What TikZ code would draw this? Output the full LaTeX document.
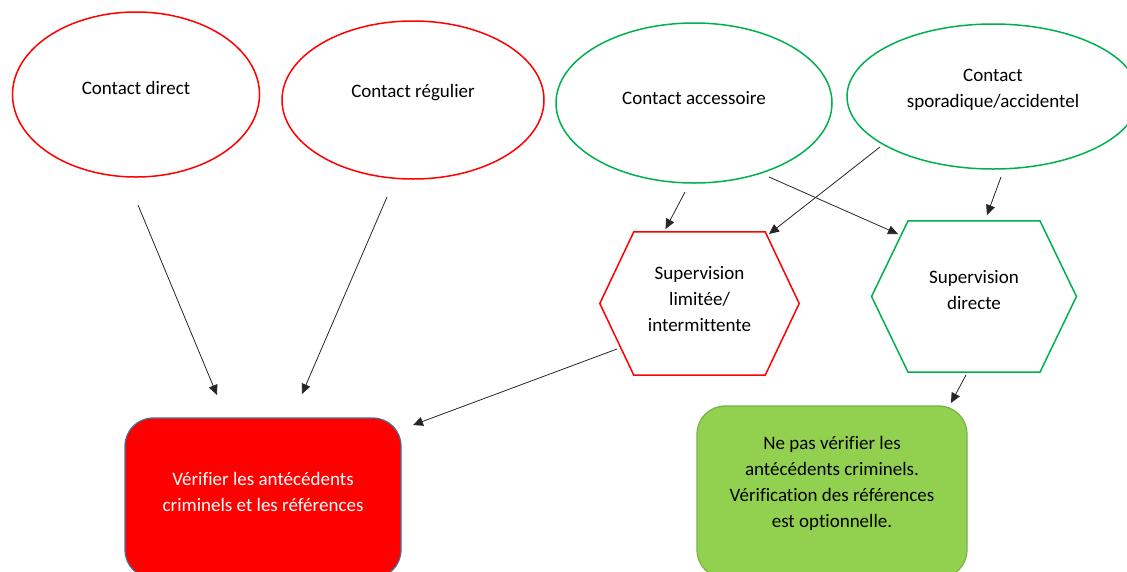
\documentclass[tikz,border=0pt]{standalone}
\usepackage{fontspec}
\setmainfont{Carlito}[Ligatures={NoCommon}]
\usetikzlibrary{arrows.meta,shapes.geometric,calc}
\definecolor{ored}{HTML}{FF0000}
\definecolor{ogreen}{HTML}{00B050}
\definecolor{lgreen}{HTML}{92D050}
\definecolor{lgreenborder}{HTML}{72B443}
\definecolor{bborder}{HTML}{41719C}
\begin{document}
\begin{tikzpicture}[x=1pt,y=-1pt,
  ell/.style={ellipse, draw, line width=1.5pt, inner sep=0pt, fill=white},
  txt/.style={font=\fontsize{19}{26}\selectfont, align=center, inner sep=0pt},
  conn/.style={draw=black!85, line width=0.8pt, -{Triangle[length=10pt,width=9pt]}},
  hexframe/.style={rectangle, draw=none, inner sep=0pt},
  hexline/.style={line width=1.5pt, line join=miter},
  rbox/.style={rectangle, rounded corners=28pt, inner sep=0pt, line width=1.2pt}
]
\useasboundingbox (0,0) rectangle (1127,571);
\clip (0,0) rectangle (1127,571);

% ellipses
\node[ell, draw=ored, minimum width=247pt, minimum height=165pt] (e1) at (136,94.5) {};
\node[ell, draw=ored, minimum width=262pt, minimum height=158pt] (e2) at (413,100) {};
\node[ell, draw=ogreen, minimum width=276pt, minimum height=160pt] (e3) at (694,103) {};
\node[ell, draw=ogreen, minimum width=292pt, minimum height=145pt] (e4) at (993,96.5) {};

\node[txt] (t1) at (136,88) {Contact direct};
\node[txt] (t2) at (413,93) {Contact régulier};
\node[txt] (t3) at (694,98) {Contact accessoire};
\node[txt] (t4) at (993,90) {Contact\\sporadique/accidentel};

% hexagons
\node[hexframe, minimum width=199pt, minimum height=143pt] (h1) at (699.5,303.5) {};
\draw[hexline, draw=ored] (h1.west) -- ($(h1.north west)+(34,0)$) -- ($(h1.north east)+(-34,0)$) -- (h1.east) -- ($(h1.south east)+(-34,0)$) -- ($(h1.south west)+(34,0)$) -- cycle;
\node[txt] (th1) at (699.5,299) {Supervision\\limitée/\\intermittente};

\node[hexframe, minimum width=204.5pt, minimum height=151pt] (h2) at (974,296.5) {};
\draw[hexline, draw=ogreen] (h2.west) -- ($(h2.north west)+(36.5,0)$) -- ($(h2.north east)+(-36.5,0)$) -- (h2.east) -- ($(h2.south east)+(-36.5,0)$) -- ($(h2.south west)+(36.5,0)$) -- cycle;
\node[txt] (th2) at (974,290.5) {Supervision\\directe};

% result boxes
\node[rbox, draw=bborder, fill=ored, minimum width=276pt, minimum height=160pt] (b1) at (263,498) {};
\node[txt, text=white] (tb1) at (263,492) {Vérifier les antécédents\\criminels et les références};

\node[rbox, draw=lgreenborder, fill=lgreen, minimum width=270pt, minimum height=172pt] (b2) at (832,492) {};
\node[txt] (tb2) at (832,483.5) {Ne pas vérifier les\\antécédents criminels.\\Vérification des références\\est optionnelle.};

% connector end points
\coordinate (a1s) at (138,205); \coordinate (a1e) at (217,395);
\coordinate (a2s) at (387,197); \coordinate (a2e) at (302,394);
\coordinate (a3s) at (617,349); \coordinate (a3e) at (413,425);
\coordinate (a4s) at (685,192); \coordinate (a4e) at (665.5,229);
\coordinate (a5s) at (880,147); \coordinate (a5e) at (769,234);
\coordinate (a6s) at (769,177); \coordinate (a6e) at (898,234);
\coordinate (a7s) at (1001,177); \coordinate (a7e) at (987,215);
\coordinate (a8s) at (966,375); \coordinate (a8e) at (951,403);

\draw[conn] (a1s) -- (a1e);
\draw[conn] (a2s) -- (a2e);
\draw[conn] (a3s) -- (a3e);
\draw[conn] (a4s) -- (a4e);
\draw[conn] (a5s) -- (a5e);
\draw[conn] (a6s) -- (a6e);
\draw[conn] (a7s) -- (a7e);
\draw[conn] (a8s) -- (a8e);
\end{tikzpicture}
\end{document}
